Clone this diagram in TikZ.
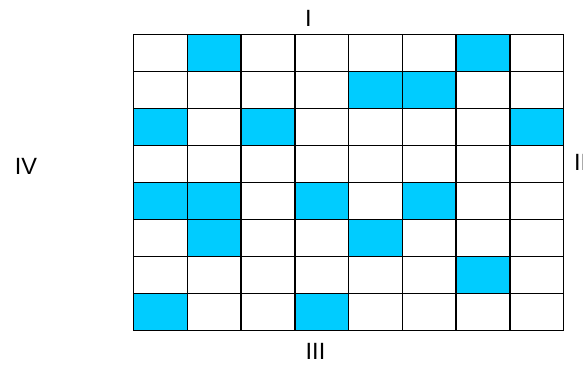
\documentclass[tikz,border=0pt]{standalone}
\usepackage{fontspec}
\setmainfont{Liberation Sans}
\definecolor{cellblue}{HTML}{00CCFF}
\begin{document}
\begin{tikzpicture}[x=1pt,y=-1pt,
  cell/.style={draw=black,line width=1.5pt,fill=white},
  bluecell/.style={draw=black,line width=1.5pt,fill=cellblue},
  lab/.style={font=\fontsize{23.5}{26}\selectfont,inner sep=0pt}]
\useasboundingbox (0,0) rectangle (583,364);
\def\cw{53.75}\def\ch{36.95}\def\xo{133.7}\def\yo{34.7}
\foreach \r/\list in {0/{2,7},1/{5,6},2/{1,3,8},3/{},4/{1,2,4,6},5/{2,5},6/{7},7/{1,4}}{
  \foreach \c in {1,...,8}{
    \path[cell] ({\xo+(\c-1)*\cw},{\yo+\r*\ch}) rectangle ++(\cw,\ch);
  }
  \foreach \c in \list{
    \path[bluecell] ({\xo+(\c-1)*\cw},{\yo+\r*\ch}) rectangle ++(\cw,\ch);
  }
}
\node[lab] (n1) at (308.5,18.5) {I};
\node[lab,anchor=west] (n2) at (574,162) {II};
\node[lab] (n3) at (315.5,351.5) {III};
\node[lab] (n4) at (26,166.5) {IV};
\end{tikzpicture}
\end{document}
